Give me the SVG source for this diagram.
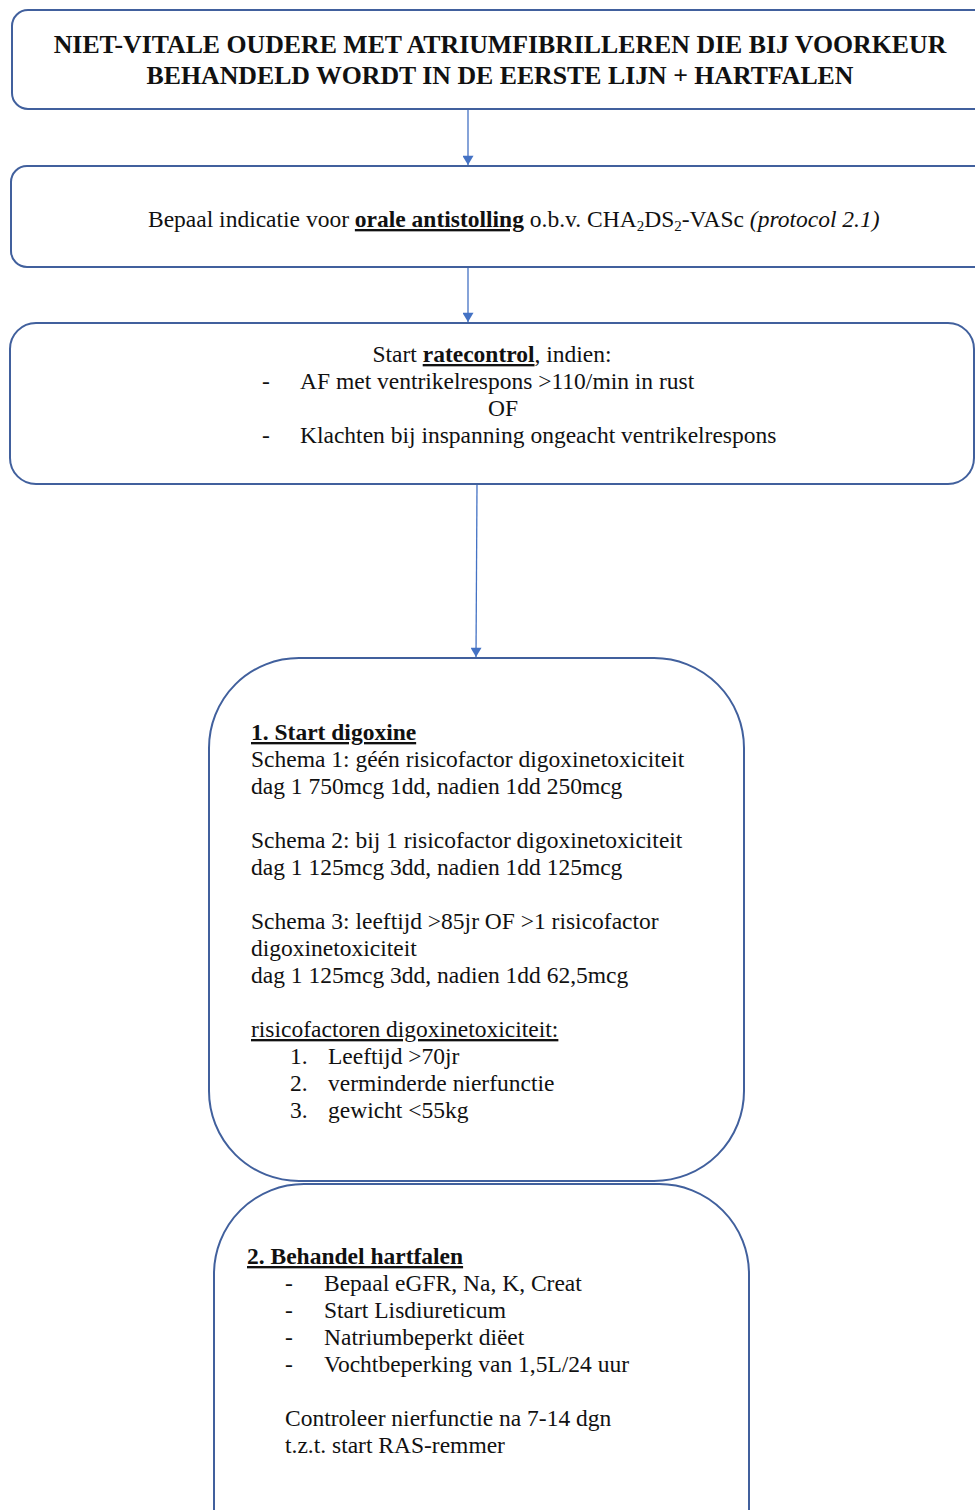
<svg xmlns="http://www.w3.org/2000/svg" width="975" height="1510" viewBox="0 0 975 1510">
<defs>
<marker id="arr" viewBox="0 0 10 12" refX="10" refY="6" markerWidth="12" markerHeight="11" orient="auto" markerUnits="userSpaceOnUse">
<path d="M0,0 L10,6 L0,12 z" fill="#4472c4"/>
</marker>
<style>
.box{fill:#fff;stroke:#41609d;stroke-width:2}
.t{font-family:"Liberation Serif","Times New Roman",serif;font-size:23.5px;fill:#111}
.b{font-weight:bold}
.u{text-decoration:underline}
.c{text-anchor:middle}
.conn{stroke:#4472c4;stroke-width:1.3;fill:none}
</style>
</defs>
<rect width="975" height="1510" fill="#fff"/>
<g id="connectors">
<line class="conn" x1="468" y1="110" x2="468" y2="165" marker-end="url(#arr)"/>
<line class="conn" x1="468" y1="268" x2="468" y2="322" marker-end="url(#arr)"/>
<line class="conn" x1="477" y1="485" x2="476" y2="657" marker-end="url(#arr)"/>
</g>
<g id="n1">
<rect class="box" x="12" y="10" width="980" height="99" rx="16"/>
<text class="t b c" x="500" y="53" style="font-size:25.8px">NIET-VITALE OUDERE MET ATRIUMFIBRILLEREN DIE BIJ VOORKEUR</text>
<text class="t b c" x="500" y="84" style="font-size:25.8px">BEHANDELD WORDT IN DE EERSTE LIJN + HARTFALEN</text>
</g>
<g id="n2">
<rect class="box" x="11" y="166" width="980" height="101" rx="16"/>
<text class="t" x="148" y="227">Bepaal indicatie voor <tspan class="b u">orale antistolling</tspan> o.b.v. CHA<tspan style="font-size:15px" dy="4">2</tspan><tspan dy="-4">DS</tspan><tspan style="font-size:15px" dy="4">2</tspan><tspan dy="-4">-VASc </tspan><tspan font-style="italic">(protocol 2.1)</tspan></text>
</g>
<g id="n3">
<rect class="box" x="10" y="323" width="964" height="161" rx="26"/>
<text class="t c" x="492" y="362">Start <tspan class="b u">ratecontrol</tspan>, indien:</text>
<text class="t" x="262" y="389">-</text>
<text class="t" x="300" y="389">AF met ventrikelrespons &gt;110/min in rust</text>
<text class="t c" x="503" y="416">OF</text>
<text class="t" x="262" y="443">-</text>
<text class="t" x="300" y="443">Klachten bij inspanning ongeacht ventrikelrespons</text>
</g>
<g id="n4">
<rect class="box" x="209" y="658" width="535" height="523" rx="90"/>
<text class="t b u" x="251" y="740">1. Start digoxine</text>
<text class="t" x="251" y="767">Schema 1: géén risicofactor digoxinetoxiciteit</text>
<text class="t" x="251" y="794">dag 1 750mcg 1dd, nadien 1dd 250mcg</text>
<text class="t" x="251" y="848">Schema 2: bij 1 risicofactor digoxinetoxiciteit</text>
<text class="t" x="251" y="875">dag 1 125mcg 3dd, nadien 1dd 125mcg</text>
<text class="t" x="251" y="929">Schema 3: leeftijd &gt;85jr OF &gt;1 risicofactor</text>
<text class="t" x="251" y="956">digoxinetoxiciteit</text>
<text class="t" x="251" y="983">dag 1 125mcg 3dd, nadien 1dd 62,5mcg</text>
<text class="t u" x="251" y="1037">risicofactoren digoxinetoxiciteit:</text>
<text class="t" x="290" y="1064">1.</text><text class="t" x="328" y="1064">Leeftijd &gt;70jr</text>
<text class="t" x="290" y="1091">2.</text><text class="t" x="328" y="1091">verminderde nierfunctie</text>
<text class="t" x="290" y="1118">3.</text><text class="t" x="328" y="1118">gewicht &lt;55kg</text>
</g>
<g id="n5">
<rect class="box" x="214" y="1184" width="535" height="420" rx="90"/>
<text class="t b u" x="247" y="1264">2. Behandel hartfalen</text>
<text class="t" x="285" y="1291">-</text><text class="t" x="324" y="1291">Bepaal eGFR, Na, K, Creat</text>
<text class="t" x="285" y="1318">-</text><text class="t" x="324" y="1318">Start Lisdiureticum</text>
<text class="t" x="285" y="1345">-</text><text class="t" x="324" y="1345">Natriumbeperkt diëet</text>
<text class="t" x="285" y="1372">-</text><text class="t" x="324" y="1372">Vochtbeperking van 1,5L/24 uur</text>
<text class="t" x="285" y="1426">Controleer nierfunctie na 7-14 dgn</text>
<text class="t" x="285" y="1453">t.z.t. start RAS-remmer</text>
</g>
</svg>
